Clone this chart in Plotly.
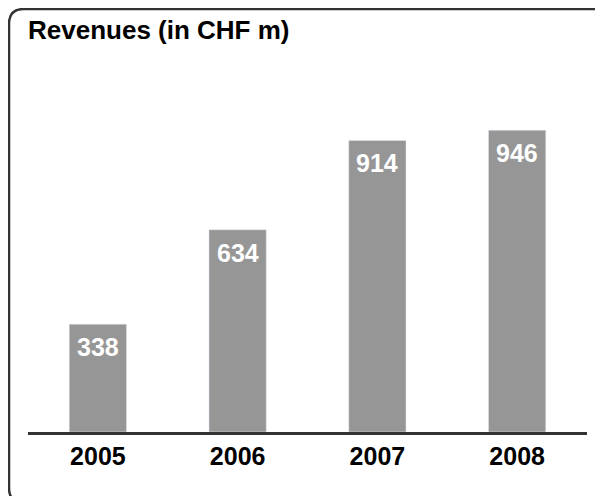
import plotly.graph_objects as go

# chart data
years = ["2005", "2006", "2007", "2008"]
revenues = [338, 634, 914, 946]
title_text = "Revenues (in CHF m)"

BAR_COLOR = "#969696"
DARK = "#333333"
FONT = "Liberation Sans, Arial, sans-serif"

W, H = 603, 496
M_L, M_R, M_T, M_B = 20, 24, 52, 72
plot_w = W - M_L - M_R
plot_h = H - M_T - M_B


def px_x(px):
    return (px - M_L) / plot_w


def px_y(py):
    return (H - M_B - py) / plot_h


fig = go.Figure()
fig.add_trace(go.Bar(
    x=years, y=revenues,
    marker_color=BAR_COLOR,
    hoverinfo="x+y",
))

# value labels near the top of each bar
# (category index as x: a numeric-looking string would be read as an index)
for i, v in enumerate(revenues):
    fig.add_annotation(
        x=i, y=v, xref="x", yref="y",
        text=f"<b>{v}</b>", showarrow=False,
        yanchor="top", yshift=-7,
        font=dict(family=FONT, size=25, color="white"),
    )

# title
fig.add_annotation(
    x=0, y=px_y(22), xref="paper", yref="paper",
    xanchor="left", yanchor="middle", xshift=-2,
    text=f"<b>{title_text}</b>", showarrow=False,
    font=dict(family=FONT, size=26, color="black"),
)

# rounded frame around the whole figure
l, t, r, b, rad = 1, 1, 602, 495, 15
path = (
    f"M {px_x(l + rad)},{px_y(b)} Q {px_x(l)},{px_y(b)} {px_x(l)},{px_y(b - rad)} "
    f"L {px_x(l)},{px_y(t + rad)} Q {px_x(l)},{px_y(t)} {px_x(l + rad)},{px_y(t)} "
    f"L {px_x(r - rad)},{px_y(t)} Q {px_x(r)},{px_y(t)} {px_x(r)},{px_y(t + rad)} "
    f"L {px_x(r)},{px_y(b - rad)} Q {px_x(r)},{px_y(b)} {px_x(r - rad)},{px_y(b)} Z"
)
fig.add_shape(type="path", path=path, xref="paper", yref="paper",
              line=dict(color=DARK, width=2.5))

fig.update_layout(
    width=W, height=H,
    margin=dict(l=M_L, r=M_R, t=M_T, b=M_B, autoexpand=False),
    paper_bgcolor="white", plot_bgcolor="white",
    bargap=0.59,
    showlegend=False,
    font=dict(family=FONT),
    xaxis=dict(
        type="category", automargin=False,
        tickvals=years, ticktext=[f"<b>{y}</b>" for y in years],
        showline=True, linecolor=DARK, linewidth=3,
        showgrid=False, zeroline=False, ticks="",
        tickfont=dict(family=FONT, size=25, color="black"),
    ),
    yaxis=dict(range=[0, 1166], visible=False, automargin=False),
)

fig.write_html("out.html")
